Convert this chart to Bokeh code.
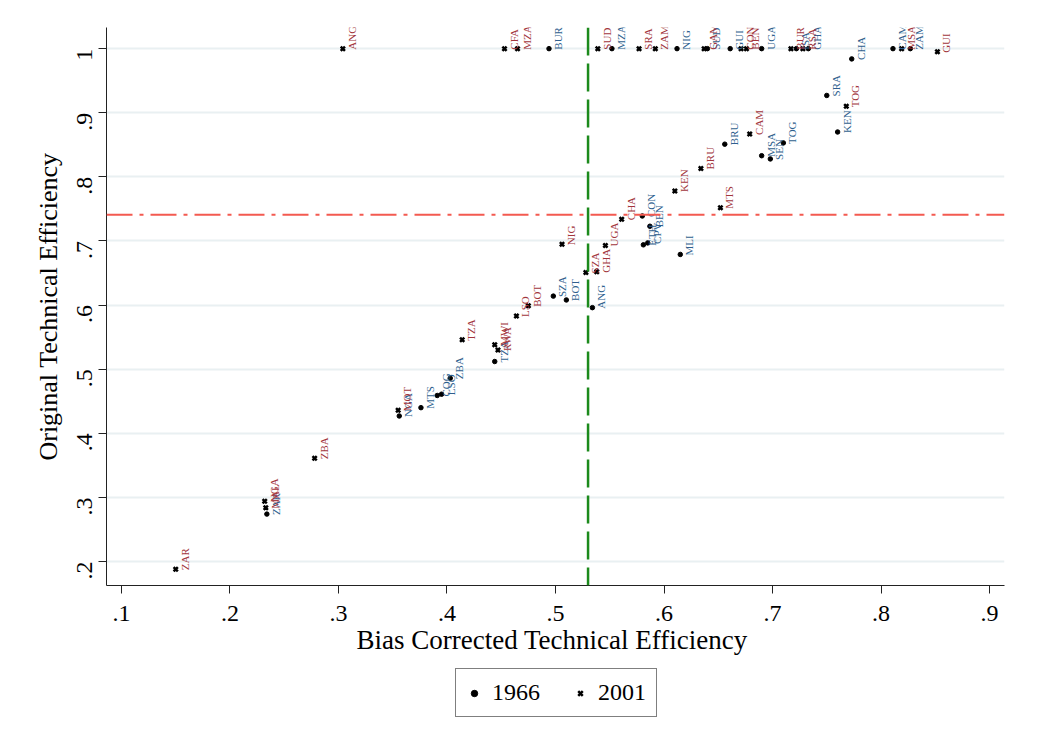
import math
from bokeh.plotting import figure
from bokeh.layouts import column
from bokeh.models import ColumnDataSource, Span, Legend, LegendItem, FixedTicker, Range1d
from bokeh.core.properties import value
from bokeh.embed import file_html
from bokeh.resources import INLINE

# ---- data: 1966 ----
codes_1966 = ["BUR", "MZA", "NIG", "SUD", "GUI", "UGA", "ISA", "GHA", "CHA", "CAM", "ZAM",
              "SRA", "KEN", "BRU", "MSA", "SEN", "TOG", "CON", "BEN", "ETH", "CPV", "MLI",
              "SZA", "BOT", "ANG", "TZA", "ZBA", "COG", "LSO", "MTS", "NGA", "ZAR"]
x_1966 = [0.494, 0.552, 0.612, 0.640, 0.661, 0.690, 0.722, 0.733, 0.773, 0.811, 0.827,
          0.750, 0.760, 0.656, 0.690, 0.698, 0.710, 0.580, 0.587, 0.581, 0.585, 0.615,
          0.498, 0.510, 0.534, 0.444, 0.403, 0.391, 0.395, 0.376, 0.356, 0.234]
y_1966 = [1.0, 1.0, 1.0, 1.0, 1.0, 1.0, 1.0, 1.0, 0.984, 1.0, 1.0,
          0.927, 0.870, 0.851, 0.833, 0.828, 0.853, 0.739, 0.723, 0.694, 0.697, 0.679,
          0.614, 0.608, 0.596, 0.512, 0.486, 0.459, 0.461, 0.440, 0.427, 0.274]

# ---- data: 2001 ----
codes_2001 = ["ANG", "CFA", "MZA", "SUD", "SRA", "ZAM", "GAM", "CON", "BEN", "BUR", "RSA",
              "MSA", "GUI", "TOG", "CAM", "BRU", "KEN", "MTS", "CHA", "NIG", "UGA", "SZA",
              "GHA", "BOT", "LSO", "TZA", "MWI", "RWA", "MOT", "ZBA", "NGA", "MAL", "ZAR"]
x_2001 = [0.304, 0.453, 0.465, 0.539, 0.577, 0.592, 0.637, 0.671, 0.676, 0.717, 0.728,
          0.819, 0.852, 0.768, 0.679, 0.634, 0.610, 0.652, 0.561, 0.506, 0.546, 0.528,
          0.538, 0.475, 0.464, 0.414, 0.444, 0.447, 0.355, 0.278, 0.232, 0.233, 0.150]
y_2001 = [1.0, 1.0, 1.0, 1.0, 1.0, 1.0, 1.0, 1.0, 1.0, 1.0, 1.0,
          1.0, 0.995, 0.910, 0.867, 0.813, 0.778, 0.752, 0.734, 0.695, 0.693, 0.651,
          0.652, 0.599, 0.583, 0.546, 0.538, 0.530, 0.436, 0.361, 0.294, 0.284, 0.188]

x_ticks = [0.1, 0.2, 0.3, 0.4, 0.5, 0.6, 0.7, 0.8, 0.9]
x_tick_labels = [".1", ".2", ".3", ".4", ".5", ".6", ".7", ".8", ".9"]
y_ticks = [0.2, 0.3, 0.4, 0.5, 0.6, 0.7, 0.8, 0.9, 1.0]
y_tick_labels = [".2", ".3", ".4", ".5", ".6", ".7", ".8", ".9", "1"]
legend_labels = ["1966", "2001"]

v_line_x = 0.53
h_line_y = 0.741

FONT = "Liberation Serif"
BLUE = "#2f5f8e"
RED = "#a2353c"

p = figure(frame_width=898, frame_height=558, output_backend="svg", toolbar_location=None,
           x_range=Range1d(0.0862, 0.9138), y_range=Range1d(0.1626, 1.033),
           min_border_left=106, min_border_right=20, min_border_top=27, min_border_bottom=80,
           background_fill_color="white", border_fill_color="white")
p.outline_line_color = None

s66 = ColumnDataSource(dict(x=x_1966, y=y_1966, t=codes_1966))
s01 = ColumnDataSource(dict(x=x_2001, y=y_2001, t=codes_2001))

p.ygrid.grid_line_color = "#e9f0f2"
p.ygrid.grid_line_width = 2
p.ygrid.ticker = FixedTicker(ticks=y_ticks)
p.xgrid.grid_line_color = None

p.add_layout(Span(location=h_line_y, dimension="width", line_color="#f35a50",
                  line_width=2, line_dash="26 7 4 7"))
p.add_layout(Span(location=v_line_x, dimension="height", line_color="#1c8a1c",
                  line_width=2.5, line_dash="28 8"))

p.scatter("x", "y", source=s66, marker="circle", size=4.5, color="black")
p.scatter("x", "y", source=s01, marker="x", size=6, line_color="black", line_width=2.5)

p.text("x", "y", text="t", source=s66, angle=math.pi / 2, text_align="left", text_baseline="top",
       x_offset=3, y_offset=1, text_font=value(FONT), text_font_size="11px", text_color=BLUE)
p.text("x", "y", text="t", source=s01, angle=math.pi / 2, text_align="left", text_baseline="top",
       x_offset=3, y_offset=1, text_font=value(FONT), text_font_size="11px", text_color=RED)

for ax in (p.xaxis[0], p.yaxis[0]):
    ax.axis_line_color = "#222222"
    ax.major_tick_line_color = "#222222"
    ax.major_tick_out = 8
    ax.major_tick_in = 0
    ax.minor_tick_line_color = None
    ax.major_label_text_font = FONT
    ax.major_label_text_font_size = "24px"
    ax.major_label_text_color = "black"
    ax.axis_label_text_font = FONT
    ax.axis_label_text_font_style = "normal"
    ax.axis_label_text_color = "black"

p.xaxis[0].ticker = FixedTicker(ticks=x_ticks)
p.xaxis[0].major_label_overrides = {t: l for t, l in zip(x_ticks, x_tick_labels)}
p.xaxis[0].axis_label = "Bias Corrected  Technical Efficiency"
p.xaxis[0].axis_label_text_font_size = "27px"
p.xaxis[0].axis_label_standoff = 1
p.xaxis[0].major_label_standoff = 12

p.yaxis[0].ticker = FixedTicker(ticks=y_ticks)
p.yaxis[0].major_label_overrides = {t: l for t, l in zip(y_ticks, y_tick_labels)}
p.yaxis[0].major_label_orientation = math.pi / 2
p.yaxis[0].axis_label = "Original Technical Efficiency"
p.yaxis[0].axis_label_text_font_size = "26px"
p.yaxis[0].axis_label_standoff = 4
p.yaxis[0].major_label_standoff = 14

# ---- legend strip below the chart (proxy renderers kept outside the strip's view) ----
pl = figure(width=1024, height=72, output_backend="svg", toolbar_location=None,
            x_axis_type=None, y_axis_type=None, x_range=Range1d(10, 11), y_range=Range1d(10, 11),
            min_border=0, background_fill_color="white", border_fill_color="white")
pl.outline_line_color = None
pl.grid.grid_line_color = None
l66 = pl.scatter(x_1966[:1], y_1966[:1], marker="circle", size=3.5, color="black")
l01 = pl.scatter(x_2001[:1], y_2001[:1], marker="x", size=5, line_color="black", line_width=2.5)
legend = Legend(items=[LegendItem(label=legend_labels[0], renderers=[l66]),
                       LegendItem(label=legend_labels[1], renderers=[l01])],
                orientation="horizontal", location=(349, 20),
                label_text_font=FONT, label_text_font_size="24px", label_text_color="black",
                border_line_color="black", border_line_width=1,
                glyph_width=16, label_standoff=10, spacing=32,
                padding=10, margin=0, background_fill_color="white")
pl.add_layout(legend, "center")

layout = column(p, pl, spacing=0)
open("out.html", "w").write(file_html(layout, INLINE))
